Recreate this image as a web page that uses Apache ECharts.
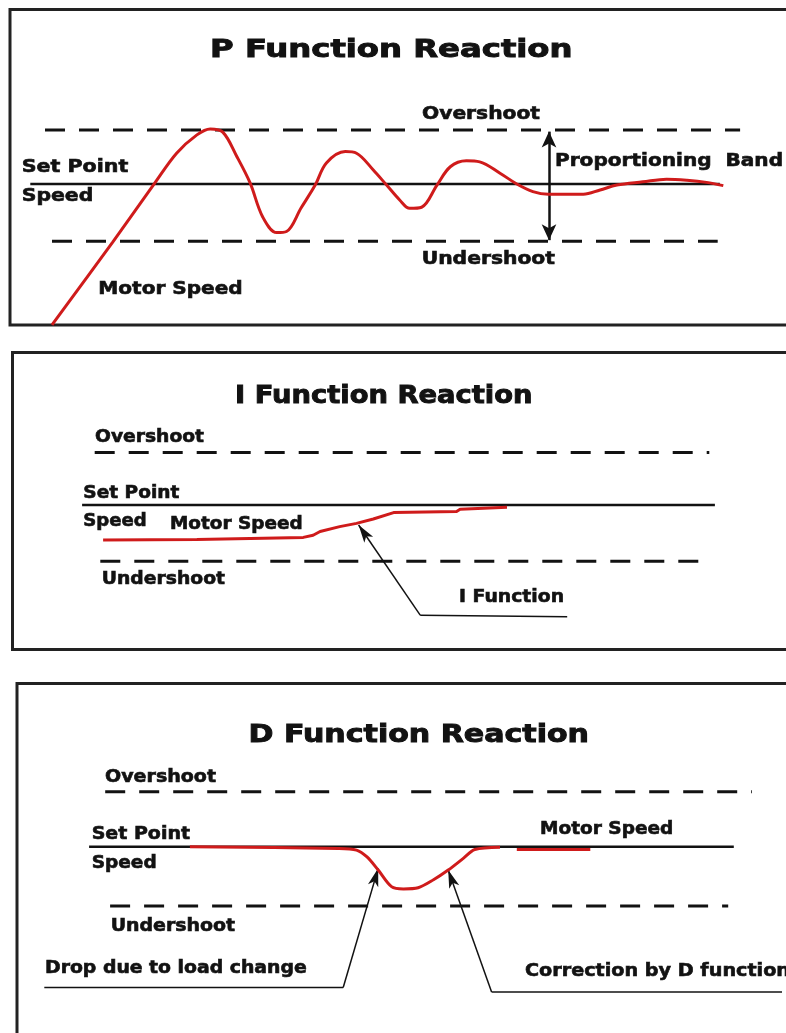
<!DOCTYPE html>
<html><head><meta charset="utf-8">
<script src="https://cdn.jsdelivr.net/npm/echarts@6/dist/echarts.min.js"></script>
<style>html,body{margin:0;padding:0;background:#fff}#c{width:786px;height:1033px}</style>
</head><body><div id="c"></div>
<script>
// ---------- DATA (time units on x, speed relative to set point on y) ----------
// Panel P
const pOvershoot = [[5.0, 1.0], [104.3, 1.0]];
const pSetPoint = [[2.9, 0], [101.4, 0]];
const pUndershoot = [[6.0, -1.06], [101.1, -1.06]];
const pBandArrow = [[77.0, 0.97], [77.0, -1.04]];
const pMotorSpeed = [
  [6.0,-2.61],[14.7,-1.07],[20.7,0.02],[23.8,0.57],[26.7,0.91],[28.6,1.02],[30.4,0.96],
  [32.4,0.51],[34.3,0.02],[36.1,-0.61],[38.1,-0.90],[39.5,-0.88],[41.6,-0.44],[43.6,-0.02],
  [45.2,0.39],[47.9,0.60],[49.5,0.57],[51.9,0.26],[53.8,-0.02],[55.7,-0.30],[57.1,-0.45],
  [58.8,-0.43],[61.0,-0.02],[62.9,0.32],[65.2,0.43],[67.1,0.41],[70.0,0.20],[72.4,0.0],
  [74.7,-0.14],[76.9,-0.19],[81.9,-0.19],[84.3,-0.11],[86.7,-0.02],[90.4,0.04],[93.8,0.09],
  [96.7,0.07],[99.5,0.03],[101.9,-0.03]
];
// Panel I
const iOvershoot = [[12.1, 0.97], [99.9, 0.97]];
const iSetPoint = [[10.3, 0], [100.7, 0]];
const iUndershoot = [[12.9, -1.04], [100.1, -1.04]];
const iMotorSpeed = [
  [13.3,-0.65],[26.7,-0.64],[41.9,-0.60],[43.3,-0.56],[44.3,-0.49],[47.1,-0.40],[49.5,-0.34],
  [51.9,-0.26],[54.8,-0.14],[63.8,-0.12],[64.3,-0.08],[71.0,-0.04]
];
const iLeader = [[79.6,-2.07],[58.6,-2.04],[49.8,-0.37]];   // end, corner, arrow tip
// Panel D
const dOvershoot = [[13.6, 0.965], [106.0, 0.965]];
const dSetPoint = [[11.3, 0], [103.4, 0]];
const dUndershoot = [[14.3, -1.04], [102.6, -1.04]];
const dMotorSpeed = [
  [25.7,0],[46.9,-0.03],[49.5,-0.06],[51.0,-0.18],[52.6,-0.41],[54.5,-0.70],[56.2,-0.74],
  [58.3,-0.72],[60.5,-0.58],[62.6,-0.41],[64.8,-0.20],[66.4,-0.05],[70.0,-0.01],
  null,
  [72.4,-0.05],[82.9,-0.05]
];
const dDropLeader = [[4.9,-2.47],[47.6,-2.47],[52.6,-0.38]];
const dCorrLeader = [[110.9,-2.55],[68.8,-2.55],[62.6,-0.41]];

const titles = ['P Function Reaction', 'I Function Reaction', 'D Function Reaction'];

// ---------- LAYOUT ----------
const FONT = '"DejaVu Sans", "Liberation Sans", Arial, sans-serif';
const INK = '#121212';
const RED = '#cf1b1b';
const mctx = document.createElement('canvas').getContext('2d');
function measure(t, fs) { mctx.font = 'bold ' + fs + 'px ' + FONT; return mctx.measureText(t).width; }
// [text, left, right, centerY, fontSize]
const labelLayout = [
  [titles[0], 210, 572.5, 50.7, 24],
  ['Overshoot', 422, 540, 115, 17],
  ['Set Point', 21.7, 128.3, 168, 17],
  ['Speed', 21.7, 93.3, 196.7, 17],
  ['Proportioning  Band', 555, 783, 161.7, 17],
  ['Undershoot', 421.7, 555, 260, 17],
  ['Motor Speed', 98.3, 242.7, 290, 17],

  [titles[1], 235, 532.5, 396.7, 24],
  ['Overshoot', 95, 204, 438, 17],
  ['Set Point', 83.3, 179.3, 493.3, 17],
  ['Speed', 83.3, 146.7, 521.7, 17],
  ['Motor Speed', 170, 302.7, 525, 17],
  ['Undershoot', 101.7, 225, 580, 17],
  ['I Function', 459, 564, 597.3, 17],

  [titles[2], 248.5, 589, 736, 24],
  ['Overshoot', 105, 216, 777.3, 17],
  ['Set Point', 91.7, 190, 835, 17],
  ['Speed', 91.7, 156.7, 863.3, 17],
  ['Motor Speed', 540, 673.3, 830, 17],
  ['Undershoot', 110.7, 235, 926.7, 17],
  ['Drop due to load change', 45, 306.7, 968.3, 17],
  ['Correction by D function', 525, 790, 971.7, 17]
];

const graphics = [
  {type:'rect', shape:{x:10, y:9.5, width:800, height:315.5}, style:{fill:'none', stroke:'#222', lineWidth:3}, silent:true},
  {type:'rect', shape:{x:12.5, y:352.5, width:800, height:297}, style:{fill:'none', stroke:'#222', lineWidth:3}, silent:true},
  {type:'rect', shape:{x:17, y:683.5, width:800, height:400}, style:{fill:'none', stroke:'#222', lineWidth:3}, silent:true}
];
labelLayout.forEach(([t, l, r, cy, fs]) => {
  const w = measure(t, fs);
  const big = fs > 20;
  graphics.push({
    type:'text', x:l, y:cy, scaleX:(r - l) / w, silent:true, z:10,
    style:{text:t, font:'bold ' + fs + 'px ' + FONT, fill:INK, stroke:INK, lineWidth: big ? 0.9 : 0.6,
      textAlign:'left', textVerticalAlign:'middle', align:'left', verticalAlign:'middle'}
  });
});

const grids = [
  {left:10, top:22, width:770, height:324},
  {left:10, top:343, width:770, height:324},
  {left:10, top:675.7, width:770, height:342}
];
const xAxes = grids.map((g, i) => ({type:'value', gridIndex:i, min:0, max:110, show:false}));
const yAxes = grids.map((g, i) => ({type:'value', gridIndex:i, min:-3, max:3, show:false}));

function base(gi, data, extra) {
  return Object.assign({type:'line', xAxisIndex:gi, yAxisIndex:gi, data:data, symbol:'none',
    silent:true, animation:false, clip:false}, extra);
}
function dashed(gi, data) { return base(gi, data, {lineStyle:{color:INK, width:3, type:[20,14]}, z:2}); }
function solid(gi, data) { return base(gi, data, {lineStyle:{color:INK, width:2.5}, z:2}); }
function red(gi, data, smooth) { return base(gi, data, {smooth:smooth, lineStyle:{color:RED, width:3}, z:5}); }
function leader(gi, pts) {
  // pts: end, corner, tip — horizontal part as series, slanted part with arrow
  return base(gi, pts.slice(0, 2), {lineStyle:{color:INK, width:1.5}, z:6,
    markLine:{silent:true, animation:false, symbol:['none','arrow'], symbolSize:[8,18],
      label:{show:false}, lineStyle:{color:INK, width:1.5, type:'solid'},
      data:[[{coord:pts[1]}, {coord:pts[2]}]]}});
}
function splitNull(arr) {
  const out = [[]];
  arr.forEach(p => { if (p === null) out.push([]); else out[out.length - 1].push(p); });
  return out;
}

const series = [
  dashed(0, pOvershoot),
  base(0, pSetPoint, {lineStyle:{color:INK, width:2.5}, z:2,
    markLine:{silent:true, animation:false, symbol:['arrow','arrow'], symbolSize:[11,16],
      label:{show:false}, lineStyle:{color:INK, width:2.5, type:'solid'},
      data:[[{coord:pBandArrow[0]}, {coord:pBandArrow[1]}]]}}),
  dashed(0, pUndershoot),
  red(0, pMotorSpeed, 0.35),

  dashed(1, iOvershoot),
  solid(1, iSetPoint),
  dashed(1, iUndershoot),
  red(1, iMotorSpeed, false),
  leader(1, iLeader),

  dashed(2, dOvershoot),
  solid(2, dSetPoint),
  dashed(2, dUndershoot),
  ...splitNull(dMotorSpeed).map(seg => red(2, seg, 0.3)),
  leader(2, dDropLeader),
  leader(2, dCorrLeader)
];

const chart = echarts.init(document.getElementById('c'), null, {renderer:'canvas'});
chart.setOption({
  backgroundColor:'#ffffff',
  animation:false,
  grid:grids, xAxis:xAxes, yAxis:yAxes,
  series:series,
  graphic:graphics
});
</script>
</body></html>
